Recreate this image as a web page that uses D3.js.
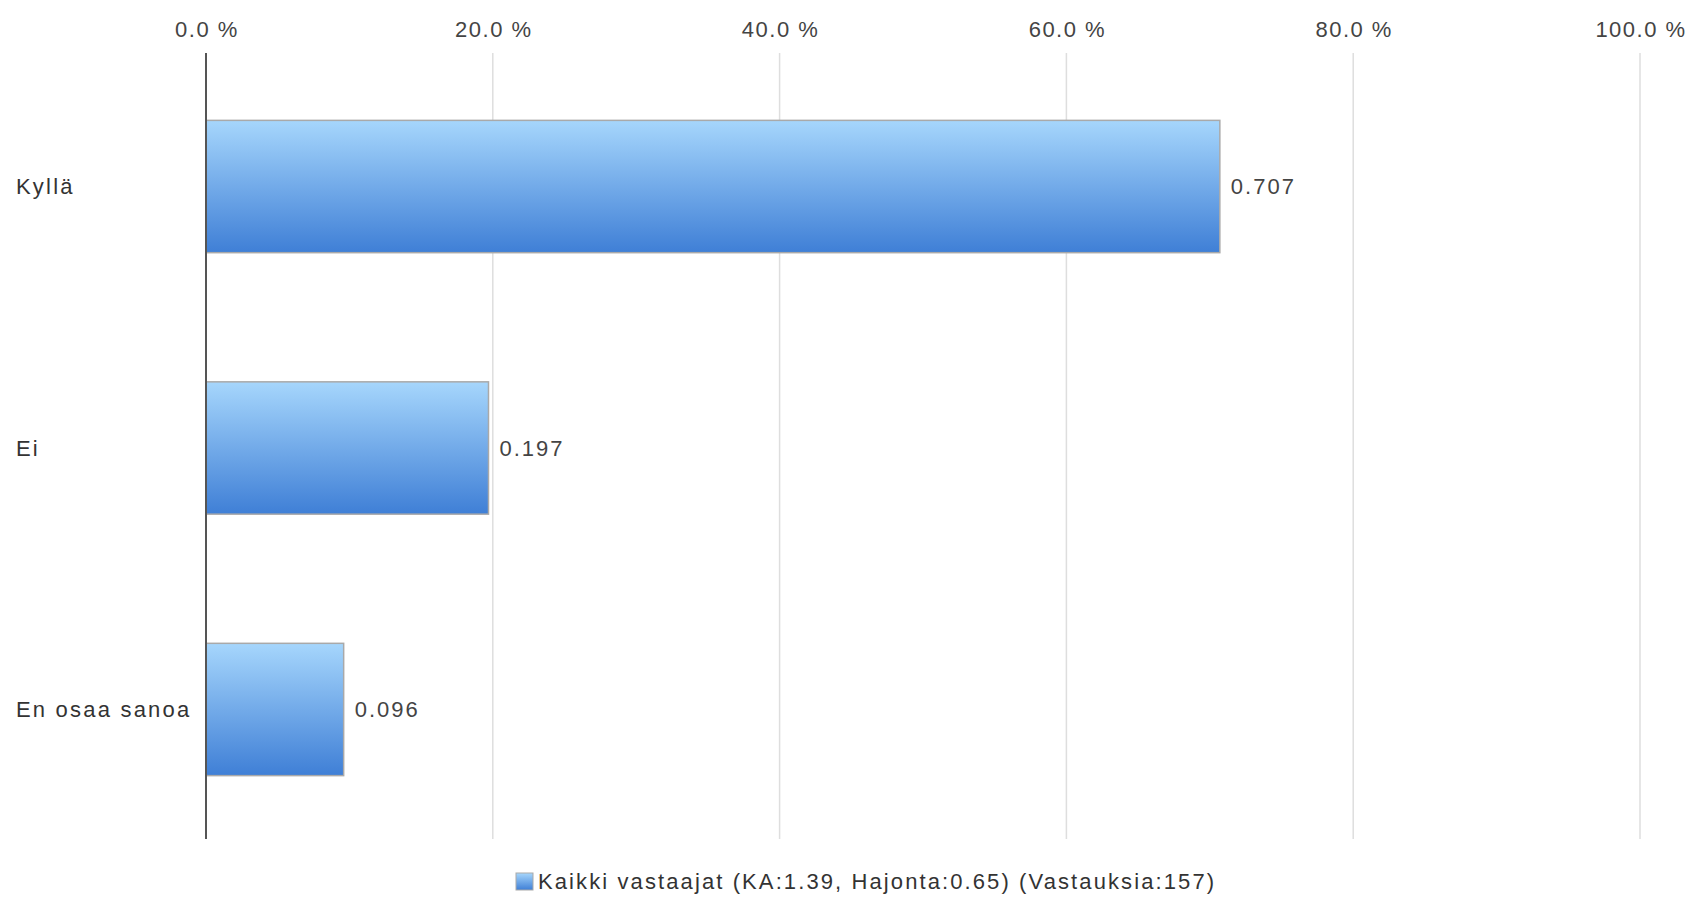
<!DOCTYPE html>
<html>
<head>
<meta charset="utf-8">
<script src="https://cdn.jsdelivr.net/npm/d3@7"></script>
<style>
  body { margin: 0; background: #fff; }
  svg text { font-family: "Liberation Sans", Arial, sans-serif; }
</style>
</head>
<body>
<div id="chart"></div>
<script>
// data
var categories = ["Kyllä", "Ei", "En osaa sanoa"];
var values = [0.707, 0.197, 0.096];
var ticks = [0, 0.2, 0.4, 0.6, 0.8, 1.0];
var legendLabel = "Kaikki vastaajat (KA:1.39, Hajonta:0.65) (Vastauksia:157)";

var W = 1694, H = 897;
var plotLeft = 206, plotRight = 1640, plotTop = 53, plotBottom = 839;

var svg = d3.select("#chart").append("svg")
    .attr("width", W).attr("height", H);

var defs = svg.append("defs");
var grad = defs.append("linearGradient").attr("id", "barGrad")
    .attr("x1", 0).attr("y1", 0).attr("x2", 0).attr("y2", 1);
grad.append("stop").attr("offset", "0%").attr("stop-color", "#a6d6fc");
grad.append("stop").attr("offset", "100%").attr("stop-color", "#3f7fd6");

var x = d3.scaleLinear().domain([0, 1]).range([plotLeft, plotRight]);
var y = d3.scaleBand().domain(categories).range([55, 841])
    .paddingInner(0.494).paddingOuter(0.25);

// gridlines
svg.selectAll(".grid")
    .data(ticks.slice(1))
    .enter().append("line")
    .attr("x1", function(d) { return x(d); })
    .attr("x2", function(d) { return x(d); })
    .attr("y1", plotTop).attr("y2", plotBottom)
    .attr("stroke", "#dedede")
    .attr("stroke-width", 1.5);

// top tick labels
svg.selectAll(".tick")
    .data(ticks)
    .enter().append("text")
    .attr("x", function(d) { return x(d) + 1; })
    .attr("y", 37)
    .attr("text-anchor", "middle")
    .attr("font-size", "22px")
    .attr("letter-spacing", "1.5px")
    .attr("fill", "#444")
    .text(function(d) { return (d * 100).toFixed(1) + " %"; });

// bars
svg.selectAll(".bar")
    .data(values)
    .enter().append("rect")
    .attr("x", x(0))
    .attr("y", function(d, i) { return y(categories[i]); })
    .attr("width", function(d) { return x(d) - x(0); })
    .attr("height", y.bandwidth())
    .attr("fill", "url(#barGrad)")
    .attr("stroke", "#a9a9a9")
    .attr("stroke-width", 1.5);

// value labels
svg.selectAll(".val")
    .data(values)
    .enter().append("text")
    .attr("x", function(d) { return x(d) + 11; })
    .attr("y", function(d, i) { return y(categories[i]) + y.bandwidth() / 2; })
    .attr("dy", "0.35em")
    .attr("font-size", "22px")
    .attr("letter-spacing", "2px")
    .attr("fill", "#444")
    .text(function(d) { return d.toFixed(3); });

// category labels
svg.selectAll(".cat")
    .data(categories)
    .enter().append("text")
    .attr("x", 16)
    .attr("y", function(d) { return y(d) + y.bandwidth() / 2; })
    .attr("dy", "0.35em")
    .attr("font-size", "22px")
    .attr("letter-spacing", "2.2px")
    .attr("fill", "#333")
    .text(function(d) { return d; });

// zero axis
svg.append("line")
    .attr("x1", x(0)).attr("x2", x(0))
    .attr("y1", plotTop).attr("y2", plotBottom)
    .attr("stroke", "#555")
    .attr("stroke-width", 2);

// legend
var lg = svg.append("g").attr("transform", "translate(516,873)");
lg.append("rect")
    .attr("width", 17).attr("height", 17)
    .attr("fill", "url(#barGrad)")
    .attr("stroke", "#a9a9a9");
lg.append("text")
    .attr("x", 22).attr("y", 8.5)
    .attr("dy", "0.35em")
    .attr("font-size", "22px")
    .attr("letter-spacing", "2.1px")
    .attr("fill", "#333")
    .text(legendLabel);
</script>
</body>
</html>
